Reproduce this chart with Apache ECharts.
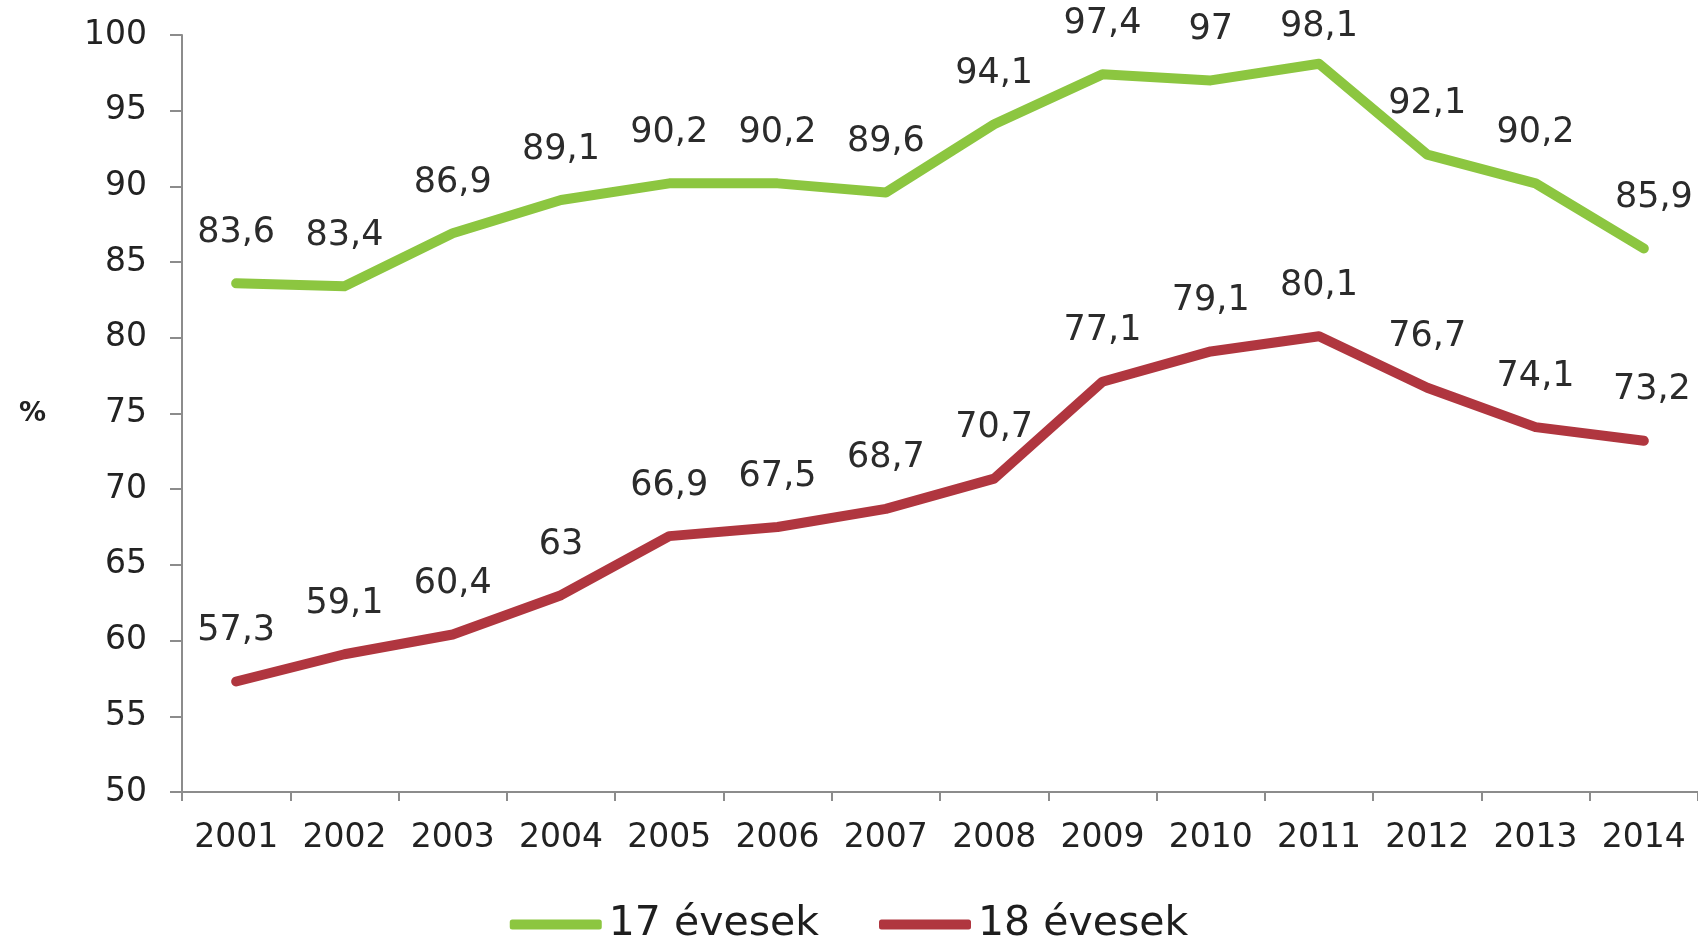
<!DOCTYPE html>
<html>
<head>
<meta charset="utf-8">
<script src="https://cdn.jsdelivr.net/npm/echarts@6/dist/echarts.min.js"></script>
<style>
html,body{margin:0;padding:0;background:#fff;}
#chart{width:1698px;height:940px;}
</style>
</head>
<body>
<div id="chart"></div>
<script>
const years = ['2001','2002','2003','2004','2005','2006','2007','2008','2009','2010','2011','2012','2013','2014'];
const age17 = [83.6, 83.4, 86.9, 89.1, 90.2, 90.2, 89.6, 94.1, 97.4, 97, 98.1, 92.1, 90.2, 85.9];
const age18 = [57.3, 59.1, 60.4, 63, 66.9, 67.5, 68.7, 70.7, 77.1, 79.1, 80.1, 76.7, 74.1, 73.2];
const seriesNames = ['17 évesek', '18 évesek'];
const yTicks = { min: 50, max: 100, interval: 5 };

// label placement tweaks (style, not data)
const labelOffsets17 = { 10: [0, 14], 13: [10, 0] };
const labelOffsets18 = { 13: [8, 0] };

const fmt = v => String(v).replace('.', ',');

function withLabelTweaks(values, offsets) {
  return values.map((v, i) => offsets[i] ? { value: v, label: { offset: offsets[i] } } : v);
}

const chart = echarts.init(document.getElementById('chart'), null, { renderer: 'canvas' });

const labelStyle = {
  show: true,
  position: 'top',
  distance: 32,
  fontFamily: 'DejaVu Sans',
  fontSize: 35,
  color: '#2b2b2b',
  formatter: p => fmt(p.value)
};

chart.setOption({
  animation: false,
  backgroundColor: '#ffffff',
  grid: { left: 182, right: -7, top: 35, bottom: 148, containLabel: false },
  legend: {
    bottom: -10,
    left: 'center',
    icon: 'roundRect',
    itemWidth: 92,
    itemHeight: 10,
    itemGap: 60,
    textStyle: { fontFamily: 'DejaVu Sans', fontSize: 41, color: '#1e1e1e', padding: [0, 0, 0, 2] },
    data: seriesNames
  },
  xAxis: {
    type: 'category',
    data: years,
    boundaryGap: true,
    axisLine: { lineStyle: { color: '#8c8c8c', width: 2 } },
    axisTick: { show: true, length: 9, lineStyle: { color: '#8c8c8c', width: 2 } },
    axisLabel: { fontFamily: 'DejaVu Sans', fontSize: 33, color: '#222', margin: 30, interval: 0 }
  },
  yAxis: {
    type: 'value',
    min: yTicks.min,
    max: yTicks.max,
    interval: yTicks.interval,
    name: '%',
    nameLocation: 'middle',
    nameRotate: 0,
    nameGap: 136,
    nameTextStyle: { fontFamily: 'DejaVu Sans', fontSize: 27, color: '#222', fontWeight: 'bold' },
    splitLine: { show: false },
    axisLine: { show: true, lineStyle: { color: '#8c8c8c', width: 2 } },
    axisTick: { show: true, length: 12, lineStyle: { color: '#8c8c8c', width: 2 } },
    axisLabel: { fontFamily: 'DejaVu Sans', fontSize: 33, color: '#222', margin: 35 }
  },
  series: [
    {
      name: seriesNames[0],
      type: 'line',
      data: withLabelTweaks(age17, labelOffsets17),
      symbol: 'circle',
      symbolSize: 2,
      itemStyle: { color: '#8cc640' },
      lineStyle: { color: '#8cc640', width: 10, join: 'round', cap: 'round' },
      label: labelStyle
    },
    {
      name: seriesNames[1],
      type: 'line',
      data: withLabelTweaks(age18, labelOffsets18),
      symbol: 'circle',
      symbolSize: 2,
      itemStyle: { color: '#b0363f' },
      lineStyle: { color: '#b0363f', width: 10, join: 'round', cap: 'round' },
      label: labelStyle
    }
  ]
});
</script>
</body>
</html>
